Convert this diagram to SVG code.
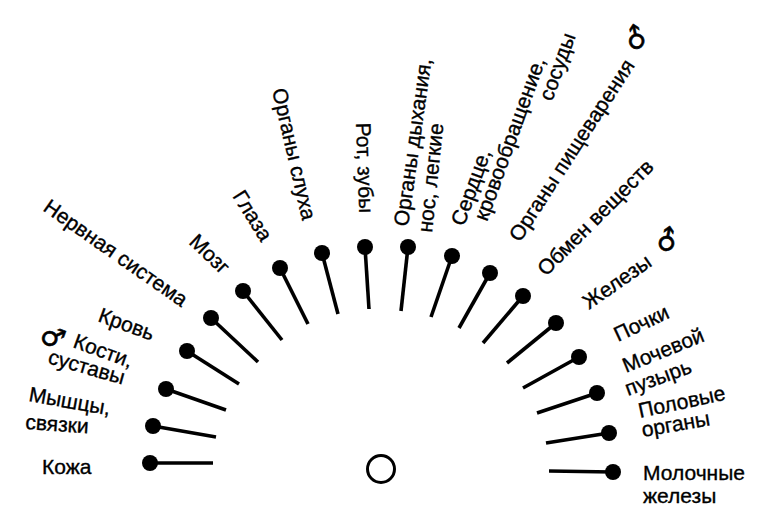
<svg xmlns="http://www.w3.org/2000/svg" width="770" height="514" viewBox="0 0 770 514">
<style>
.lbl{font-family:"Liberation Sans",Arial,sans-serif;font-size:21px;fill:#000;stroke:#000;stroke-width:0.35}
.sym{font-family:"DejaVu Sans",sans-serif;font-size:27px;fill:#000;stroke:#000;stroke-width:0.6;text-anchor:middle;dominant-baseline:central}
.ln{stroke:#000;stroke-width:3.6;fill:none}
.dot{fill:#000}
</style>
<rect width="770" height="514" fill="#fff"/>
<g id="connectors" class="ln">
<line x1="150" y1="463" x2="213" y2="463"/>
<line x1="153" y1="426" x2="216" y2="437"/>
<line x1="166" y1="389" x2="226" y2="410"/>
<line x1="187" y1="351" x2="239" y2="384"/>
<line x1="211" y1="318" x2="258" y2="362"/>
<line x1="243" y1="291" x2="282" y2="340"/>
<line x1="280" y1="268" x2="308" y2="324"/>
<line x1="322" y1="253" x2="338" y2="314"/>
<line x1="365" y1="247" x2="369" y2="309"/>
<line x1="408" y1="247" x2="401" y2="311"/>
<line x1="452" y1="256" x2="431" y2="317"/>
<line x1="490" y1="273" x2="459" y2="328"/>
<line x1="523" y1="296" x2="483" y2="343"/>
<line x1="556" y1="323" x2="507" y2="363"/>
<line x1="579" y1="357" x2="523" y2="388"/>
<line x1="597" y1="393" x2="537" y2="413"/>
<line x1="609" y1="433" x2="546" y2="443"/>
<line x1="613" y1="472" x2="549" y2="471"/>
</g>
<g id="center"><circle cx="381" cy="469" r="13.5" fill="none" stroke="#000" stroke-width="3"/></g>
<g id="n-kozha"><circle class="dot" cx="150" cy="463" r="8"/><text class="lbl" transform="translate(42,474)">Кожа</text></g>
<g id="n-myshcy"><circle class="dot" cx="153" cy="426" r="8"/><text class="lbl" transform="translate(28,401) rotate(10)">Мышцы,</text><text class="lbl" transform="translate(25,429) rotate(4)">связки</text></g>
<g id="n-kosti"><circle class="dot" cx="166" cy="389" r="8"/><text class="sym" transform="translate(53,337) rotate(20)">♂</text><text class="lbl" transform="translate(72,347) rotate(20)">Кости,</text><text class="lbl" transform="translate(47,363) rotate(16)">суставы</text></g>
<g id="n-krov"><circle class="dot" cx="187" cy="351" r="8"/><text class="lbl" transform="translate(97,321) rotate(20)">Кровь</text></g>
<g id="n-nervnaya"><circle class="dot" cx="211" cy="318" r="8"/><text class="lbl" transform="translate(42,210) rotate(35)">Нервная система</text></g>
<g id="n-mozg"><circle class="dot" cx="243" cy="291" r="8"/><text class="lbl" transform="translate(188,243) rotate(44)">Мозг</text></g>
<g id="n-glaza"><circle class="dot" cx="280" cy="268" r="8"/><text class="lbl" transform="translate(232,196) rotate(58)">Глаза</text></g>
<g id="n-sluh"><circle class="dot" cx="322" cy="253" r="8"/><text class="lbl" transform="translate(272,90) rotate(77)">Органы слуха</text></g>
<g id="n-rot"><circle class="dot" cx="365" cy="247" r="8"/><text class="lbl" transform="translate(356,123) rotate(88)">Рот, зубы</text></g>
<g id="n-dyhanie"><circle class="dot" cx="408" cy="247" r="8"/><text class="lbl" transform="translate(408,227) rotate(-82)">Органы дыхания,</text><text class="lbl" transform="translate(432,233) rotate(-84)">нос, легкие</text></g>
<g id="n-serdce"><circle class="dot" cx="452" cy="256" r="8"/><text class="lbl" transform="translate(464,227) rotate(-70)">Сердце,</text><text class="lbl" transform="translate(487,222) rotate(-70)">кровообращение,</text><text class="lbl" transform="translate(552,102) rotate(-70)">сосуды</text></g>
<g id="n-pishchevarenie"><circle class="dot" cx="490" cy="273" r="8"/><text class="lbl" transform="translate(520,243) rotate(-57)">Органы пищеварения</text><text class="sym" transform="translate(636,38) rotate(-57)">♂</text></g>
<g id="n-obmen"><circle class="dot" cx="523" cy="296" r="8"/><text class="lbl" transform="translate(546,277) rotate(-45)">Обмен веществ</text></g>
<g id="n-zhelezy"><circle class="dot" cx="556" cy="323" r="8"/><text class="lbl" transform="translate(589,310) rotate(-35)">Железы</text><text class="sym" transform="translate(667,240) rotate(-35)">♂</text></g>
<g id="n-pochki"><circle class="dot" cx="579" cy="357" r="8"/><text class="lbl" transform="translate(618,342) rotate(-25)">Почки</text></g>
<g id="n-puzyr"><circle class="dot" cx="597" cy="393" r="8"/><text class="lbl" transform="translate(626,373) rotate(-22)">Мочевой</text><text class="lbl" transform="translate(628,396) rotate(-20)">пузырь</text></g>
<g id="n-polovye"><circle class="dot" cx="609" cy="433" r="8"/><text class="lbl" transform="translate(640,418) rotate(-12)">Половые</text><text class="lbl" transform="translate(643,437) rotate(-10)">органы</text></g>
<g id="n-molochnye"><circle class="dot" cx="613" cy="472" r="8"/><text class="lbl" transform="translate(643,480)">Молочные</text><text class="lbl" transform="translate(643,503)">железы</text></g>
</svg>
